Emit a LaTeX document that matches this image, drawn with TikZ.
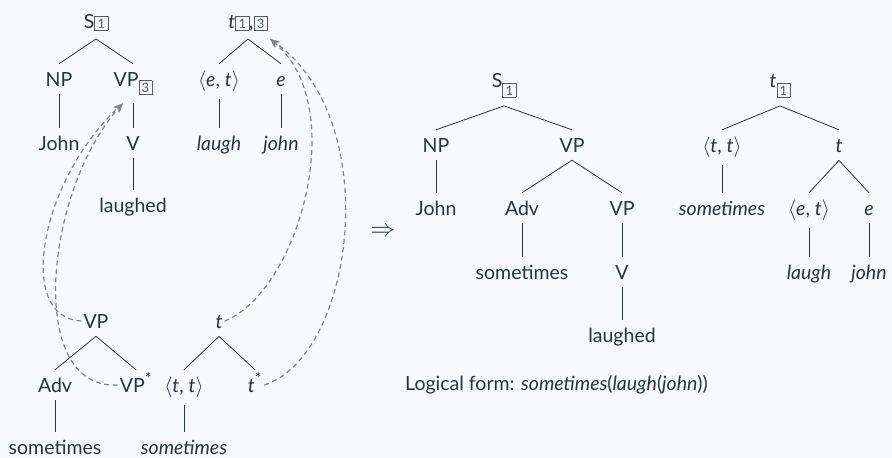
\documentclass[tikz,border=0pt]{standalone}
\usepackage{fontspec}
\setmainfont{Lato}
\usetikzlibrary{arrows.meta}

\definecolor{ink}{HTML}{27363B}
\definecolor{paper}{HTML}{F8F9FA}
\definecolor{linkgray}{HTML}{858585}

% boxed index attached to a label; optional argument = how far it drops
\newcommand\ibox[2][6.3pt]{\raisebox{-#1}{\color{ink!80}\fboxsep=2pt\fboxrule=0.7pt\fbox{\fontsize{13}{13}\selectfont\vphantom{1}\makebox[8.5pt]{#2}}}}
\newcommand\typ[2]{$\langle$\textit{#1}, \textit{#2}$\rangle$}
\newcommand\starred{\textsuperscript{\fontsize{16}{16}\selectfont *}}

\tikzset{
  tn/.style={anchor=base, inner xsep=2pt, inner ysep=8pt, text height=14pt, text=ink,
             font=\fontsize{19.5}{22}\selectfont},
  br/.style={draw=ink, line width=0.8pt},
  mv/.style={draw=linkgray, line width=1.2pt, dash pattern=on 5pt off 3.5pt,
             -{Stealth[length=9.5pt,width=7.5pt]}},
}

\begin{document}
\begin{tikzpicture}[x=1pt,y=-1pt]
\fill[paper] (0,0) rectangle (892,458);
\useasboundingbox (0,0) rectangle (892,458);

% ---- elementary tree: S ----
\node[tn] (sA) at (96,28) {S\ibox[0pt]{1}};
\node[tn] (npA) at (59,86) {NP};
\node[tn] (vpA) at (133,86) {VP\ibox{3}};
\node[tn] (johnA) at (59,150) {John};
\node[tn] (vA) at (133,150) {V};
\node[tn] (laughedA) at (133,212) {laughed};
\draw[br] (sA.south) -- (npA.north);
\draw[br] (sA.south) -- (vpA.north);
\draw[br] (npA.south) -- (johnA.north);
\draw[br] (vpA.south) -- (vA.north);
\draw[br] (vA.south) -- (laughedA.north);

% ---- semantic tree: t ----
\node[tn] (tB) at (248,28) {\textit{t}\ibox[0pt]{1},\ibox[0pt]{3}};
\node[tn] (etB) at (219,86) {\typ{e}{t}};
\node[tn] (eB) at (281,86) {\textit{e}};
\node[tn] (laughB) at (219,150) {\textit{laugh}};
\node[tn] (johnB) at (281,150) {\textit{john}};
\draw[br] (tB.south) -- (etB.north);
\draw[br] (tB.south) -- (eB.north);
\draw[br] (etB.south) -- (laughB.north);
\draw[br] (eB.south) -- (johnB.north);

% ---- auxiliary tree: VP ----
\node[tn] (vpC) at (96,328) {VP};
\node[tn] (advC) at (55,392) {Adv};
\node[tn] (vpsC) at (136,392) {VP\starred};
\node[tn] (someC) at (55,454) {sometimes};
\draw[br] (vpC.south) -- (advC.north);
\draw[br] (vpC.south) -- (vpsC.north);
\draw[br] (advC.south) -- (someC.north);

% ---- auxiliary semantic tree: t ----
\node[tn] (tD) at (219,328) {\textit{t}};
\node[tn] (ttD) at (184,392) {\typ{t}{t}};
\node[tn] (tsD) at (255,392) {\textit{t}\starred};
\node[tn] (someD) at (184,454) {\textit{sometimes}};
\draw[br] (tD.south) -- (ttD.north);
\draw[br] (tD.south) -- (tsD.north);
\draw[br] (ttD.south) -- (someD.north);

% ---- adjunction links ----
\draw[mv] (vpC.west) .. controls (15,318) and (40,180) .. ([xshift=-10pt]vpA.south);
\draw[mv] (vpsC.west) .. controls (25,390) and (45,190) .. ([xshift=-10pt]vpA.south);
\draw[mv] (tD.east) .. controls (300,290) and (350,105) .. ([xshift=22pt]tB.south);
\draw[mv] (tsD.east) .. controls (355,355) and (385,120) .. ([xshift=22pt]tB.south);

% ---- result ----
\node[text=ink, font=\fontsize{25}{28}\selectfont] (impl) at (383,232) {$\Rightarrow$};

\node[tn] (sE) at (504,87) {S\ibox[8pt]{1}};
\node[tn] (npE) at (436,152) {NP};
\node[tn] (vpE) at (572,152) {VP};
\node[tn] (johnE) at (436,215) {John};
\node[tn] (advE) at (522,215) {Adv};
\node[tn] (vp2E) at (622,215) {VP};
\node[tn] (someE) at (522,279) {sometimes};
\node[tn] (vE) at (622,279) {V};
\node[tn] (laughedE) at (622,342) {laughed};
\draw[br] (sE.south) -- (npE.north);
\draw[br] (sE.south) -- (vpE.north);
\draw[br] (npE.south) -- (johnE.north);
\draw[br] (vpE.south) -- (advE.north);
\draw[br] (vpE.south) -- (vp2E.north);
\draw[br] (advE.south) -- (someE.north);
\draw[br] (vp2E.south) -- (vE.north);
\draw[br] (vE.south) -- (laughedE.north);

\node[tn] (tF) at (780,87) {\textit{t}\ibox[8pt]{1}};
\node[tn] (ttF) at (722,152) {\typ{t}{t}};
\node[tn] (t2F) at (839,152) {\textit{t}};
\node[tn] (someF) at (722,215) {\textit{sometimes}};
\node[tn] (etF) at (809,215) {\typ{e}{t}};
\node[tn] (eF) at (869,215) {\textit{e}};
\node[tn] (laughF) at (809,279) {\textit{laugh}};
\node[tn] (johnF) at (869,279) {\textit{john}};
\draw[br] (tF.south) -- (ttF.north);
\draw[br] (tF.south) -- (t2F.north);
\draw[br] (ttF.south) -- (someF.north);
\draw[br] (t2F.south) -- (etF.north);
\draw[br] (t2F.south) -- (eF.north);
\draw[br] (etF.south) -- (laughF.north);
\draw[br] (eF.south) -- (johnF.north);

\node[tn, anchor=base west, inner xsep=0pt] (lf) at (405,390)
  {Logical form: \textit{sometimes}(\textit{laugh}(\textit{john}))};
\end{tikzpicture}
\end{document}
